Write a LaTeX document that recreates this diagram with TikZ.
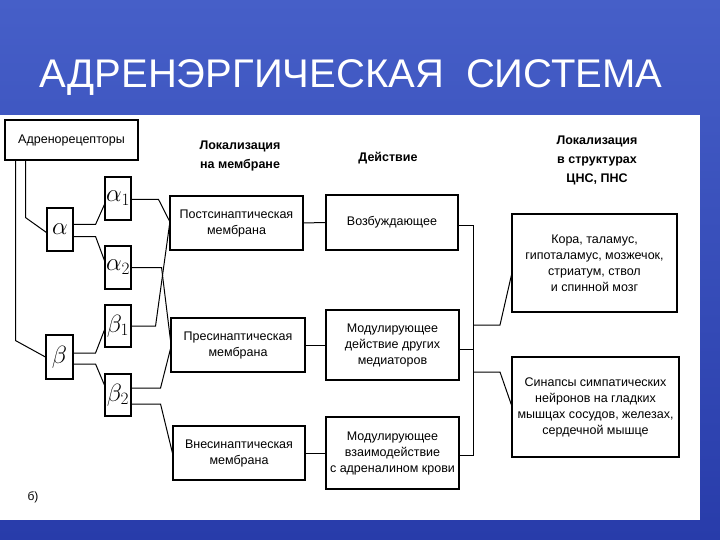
\documentclass[tikz,border=0pt]{standalone}
\usepackage{fontspec}
\setmainfont{Liberation Sans}
\begin{document}
\begin{tikzpicture}[x=1pt,y=-1pt,
  bx/.style={draw,line width=1.1pt,inner sep=0pt,align=center,font=\fontsize{12.5}{16}\selectfont},
  gk/.style={draw,line width=1.1pt,inner sep=0pt,font=\fontsize{24}{24}\selectfont},
  hd/.style={align=center,font=\bfseries\fontsize{12.5}{19}\selectfont},
  ln/.style={line width=1pt}]
\useasboundingbox (0,0) rectangle (720,540);
\shade[top color={rgb,255:red,70;green,95;blue,200},bottom color={rgb,255:red,40;green,60;blue,170}] (0,0) rectangle (720,540);
\node[text=white,font=\fontsize{40}{42}\selectfont] (title) at (351,78) {АДРЕНЭРГИЧЕСКАЯ\ \ СИСТЕМА};
\fill[white] (0,115) rectangle (700,520);
% nodes
\node[bx,minimum width=133pt,minimum height=40pt] (ar) at (71.5,140) {Адренорецепторы};
\node[gk,minimum width=26pt,minimum height=43pt] (a) at (60,229.5) {$\alpha$};
\node[gk,minimum width=27pt,minimum height=44pt] (b) at (59.5,357) {$\beta$};
\node[gk,minimum width=26pt,minimum height=43pt] (a1) at (118,198.5) {$\alpha_1$};
\node[gk,minimum width=26pt,minimum height=43pt] (a2) at (118,267.5) {$\alpha_2$};
\node[gk,minimum width=26pt,minimum height=42pt] (b1) at (118,326) {$\beta_1$};
\node[gk,minimum width=26pt,minimum height=42pt] (b2) at (118,395) {$\beta_2$};
\node[bx,minimum width=133pt,minimum height=54pt] (post) at (236.5,223) {Постсинаптическая\\мембрана};
\node[bx,minimum width=134pt,minimum height=54pt] (pre) at (238,345) {Пресинаптическая\\мембрана};
\node[bx,minimum width=132pt,minimum height=54pt] (vne) at (239,453) {Внесинаптическая\\мембрана};
\node[bx,minimum width=132pt,minimum height=55pt] (vozb) at (392,222.5) {Возбуждающее};
\node[bx,minimum width=133pt,minimum height=70pt] (mod1) at (392.5,345) {Модулирующее\\действие других\\медиаторов};
\node[bx,minimum width=133pt,minimum height=72pt] (mod2) at (392.5,453) {Модулирующее\\взаимодействие\\с адреналином крови};
\node[bx,minimum width=165pt,minimum height=98pt] (kora) at (594.5,263) {Кора, таламус,\\гипоталамус, мозжечок,\\стриатум, ствол\\и спинной мозг};
\node[bx,minimum width=167pt,minimum height=100pt] (syn) at (595.5,407) {Синапсы симпатических\\нейронов на гладких\\мышцах сосудов, железах,\\сердечной мышце};
\node[hd] (h1) at (240,156) {Локализация\\на мембране};
\node[hd] (h2) at (388,158) {Действие};
\node[hd] (h3) at (597,160) {Локализация\\в структурах\\ЦНС, ПНС};
\node[font=\fontsize{12}{13}\selectfont] (lb) at (33,497) {б)};
% connectors (yshift positive = up on page)
\draw[ln] ([xshift=-46pt]ar.south) -- ++(0,57) -- ([yshift=-3pt]a.west);
\draw[ln] ([xshift=-56pt]ar.south) -- ++(0,180) -- (b.west);
\draw[ln] ([yshift=5pt]a.east) -- ++(22,0) -- ([yshift=-6pt]a1.west);
\draw[ln] ([yshift=-7pt]a.east) -- ++(22,0) -- ([yshift=7pt]a2.west);
\draw[ln] ([yshift=4pt]b.east) -- ++(22,0) -- ([yshift=-4pt]b1.west);
\draw[ln] ([yshift=-7pt]b.east) -- ++(22,0) -- ([yshift=10pt]b2.west);
\draw[ln] ([yshift=-1pt]a1.east) -- ++(27,0) -- ([yshift=2pt]post.west);
\draw[ln] (a2.east) -- ++(30,0) -- ([yshift=5pt]pre.west);
\draw[ln] (b1.east) -- ++(24,0) -- ([yshift=-2pt]post.west);
\draw[ln] ([yshift=7pt]b2.east) -- ++(29,0) -- ([yshift=-4pt]pre.west);
\draw[ln] ([yshift=-9pt]b2.east) -- ++(29,0) -- (vne.west);
\draw[ln] (post) -- (vozb);
\draw[ln] (pre) -- (mod1);
\draw[ln] (vne) -- (mod2);
\coordinate (j1) at (473,325);
\coordinate (j2) at (473,372);
\draw[ln] ([yshift=-3pt]vozb.east) -| (473,455) -- ([yshift=-2pt]mod2.east);
\draw[ln] ([yshift=-4pt]mod1.east) -- (473,349);
\draw[ln] (j1) -- ++(27,0) -- ([yshift=-12pt]kora.west);
\draw[ln] (j2) -- ++(27,0) -- ([yshift=2pt]syn.west);
\end{tikzpicture}
\end{document}
